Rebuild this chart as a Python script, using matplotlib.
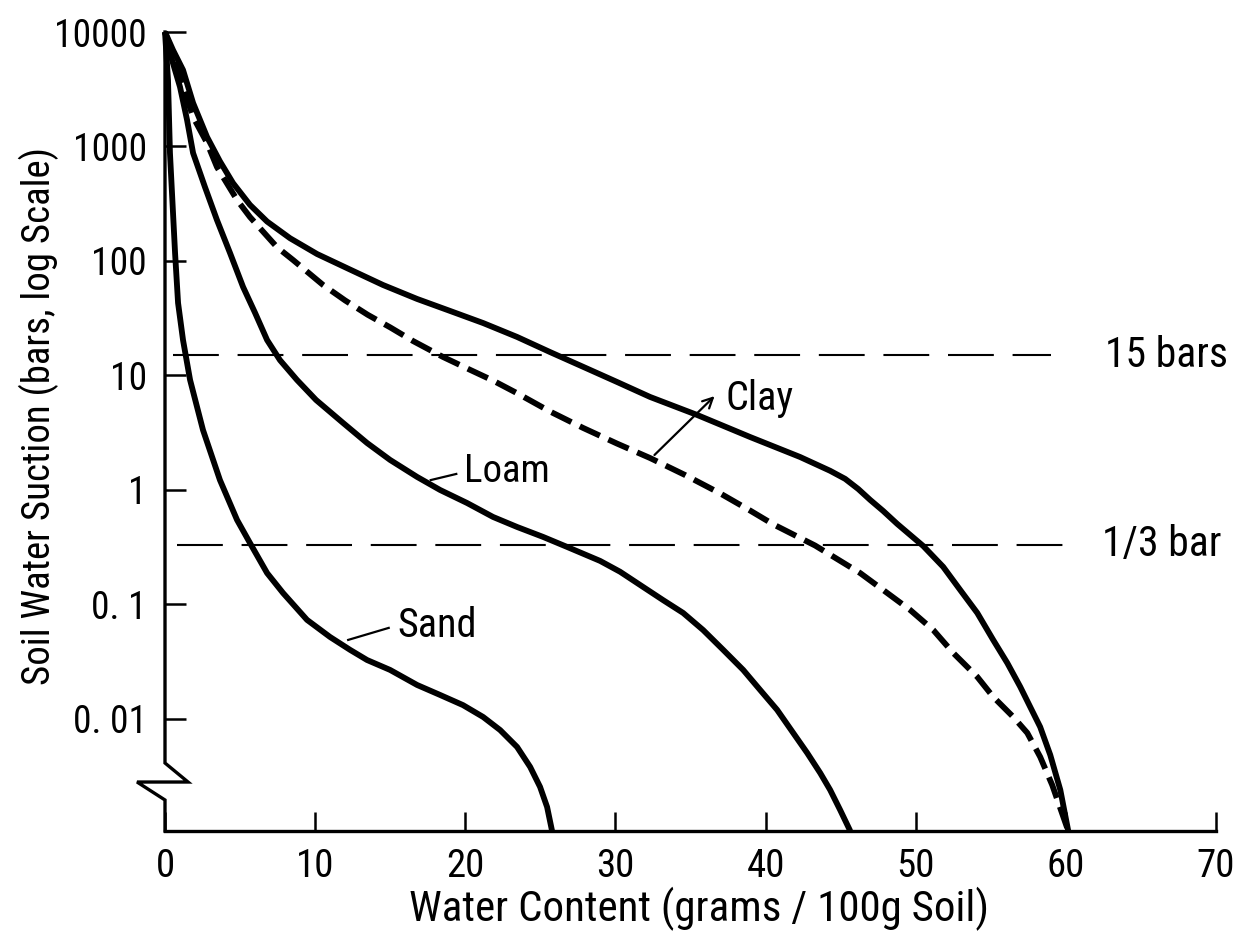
import matplotlib
matplotlib.use("Agg")
import matplotlib.pyplot as plt
from matplotlib import font_manager as fm
from matplotlib.ticker import FixedLocator, FixedFormatter, NullLocator

# ---- data -------------------------------------------------------------
# water content (g / 100 g soil) and soil water suction (bars)
sand_w = [0, 0.20, 0.33, 0.67, 0.87, 1.20, 1.67, 2.53, 3.66, 4.80, 5.66, 6.80,
          7.86, 9.46, 10.99, 12.33, 13.46, 14.99, 16.79, 18.32, 19.85, 21.19,
          22.32, 23.45, 24.32, 24.98, 25.45, 25.78]
sand_s = [10000, 3811, 877, 117.5, 43, 20.4, 9.14, 3.34, 1.22, 0.547, 0.344,
          0.188, 0.126, 0.0733, 0.052, 0.0401, 0.0327, 0.0268, 0.0198, 0.0162,
          0.0132, 0.0104, 0.0080, 0.00569, 0.00381, 0.00255, 0.0017, 0.00105]

loam_w = [0, 0.47, 1.0, 1.47, 1.87, 2.66, 3.46, 4.33, 5.20, 6.00, 6.80, 7.66,
          8.79, 10.06, 11.86, 13.46, 14.99, 16.79, 18.32, 20.12, 21.85, 23.45,
          25.18, 26.78, 28.98, 30.31, 31.85, 33.18, 34.51, 35.84, 37.18, 38.51,
          39.64, 40.77, 41.84, 42.77, 43.64, 44.30, 44.97, 45.64]
loam_s = [10000, 5690, 3311, 1702, 877, 443, 228, 117.5, 59.3, 35.2, 20.4,
          13.6, 9.14, 6.11, 3.85, 2.57, 1.83, 1.30, 1.0, 0.769, 0.581, 0.475,
          0.389, 0.318, 0.240, 0.193, 0.142, 0.109, 0.0843, 0.0598, 0.0401,
          0.0268, 0.0179, 0.0120, 0.00755, 0.00505, 0.00337, 0.0024, 0.0016,
          0.00105]

clay_w = [0, 0.53, 1.20, 1.87, 2.80, 3.66, 4.53, 5.66, 6.80, 8.33, 10.13,
          12.33, 14.52, 16.79, 18.99, 21.19, 23.45, 25.65, 27.85, 30.11, 32.31,
          35.44, 38.97, 42.30, 44.30, 45.30, 46.17, 46.97, 47.83, 48.77, 49.63,
          50.50, 51.83, 52.96, 54.10, 55.16, 56.10, 56.96, 57.63, 58.29, 58.96,
          59.63, 60.16]
clay_s = [10000, 6966, 4656, 2399, 1211, 741, 479, 309, 221, 158, 115, 84.1,
          61.7, 46.6, 36.6, 28.7, 21.7, 16.0, 11.9, 8.77, 6.49, 4.52, 2.90,
          1.94, 1.47, 1.25, 1.02, 0.818, 0.656, 0.505, 0.405, 0.324, 0.213,
          0.134, 0.0843, 0.049, 0.0308, 0.0191, 0.0127, 0.00851, 0.00485,
          0.0024, 0.00105]

clay2_w = [0, 0.67, 1.20, 1.87, 2.80, 3.46, 4.80, 5.66, 7.46, 8.53, 10.53,
           12.00, 13.50, 15.00, 16.52, 18.52, 20.32, 21.85, 23.45, 25.65, 27.85,
           30.11, 32.31, 34.64, 36.98, 38.97, 40.51, 43.30, 46.30, 48.10, 49.63,
           51.17, 52.50, 54.10, 55.16, 56.50, 57.43, 58.29, 59.09, 60.16]
clay2_s = [10000, 5690, 3311, 1811, 1074, 662, 341, 242, 132, 102, 61.7, 45.2,
           33.9, 26.3, 20.0, 14.5, 11.2, 9.02, 7.00, 4.84, 3.48, 2.54, 1.90,
           1.35, 0.933, 0.661, 0.501, 0.327, 0.188, 0.126, 0.0895, 0.0598,
           0.0377, 0.0233, 0.0156, 0.0104, 0.00755, 0.00466, 0.00265, 0.00105]

wilting_point = 15.0        # bars
field_capacity = 1.0 / 3.0  # bars

x_ticks = [0, 10, 20, 30, 40, 50, 60, 70]
x_tick_labels = ["0", "10", "20", "30", "40", "50", "60", "70"]
y_ticks = [0.01, 0.1, 1, 10, 100, 1000, 10000]
y_tick_labels = ["0. 01", "0. 1", "1", "10", "100", "1000", "10000"]

# ---- fonts: prefer a narrow sans ------------------------------------------
names = {f.name for f in fm.fontManager.ttflist}
chosen = None
for cand in ["Liberation Sans Narrow", "Roboto Condensed", "Open Sans Condensed",
             "Noto Sans Condensed", "DejaVu Sans Condensed"]:
    if cand in names:
        chosen = cand
        break
if chosen:
    plt.rcParams["font.family"] = [chosen, "DejaVu Sans"]
else:
    plt.rcParams["font.family"] = ["DejaVu Sans"]
    plt.rcParams["font.stretch"] = "condensed"

# ---- figure -----------------------------------------------------------
fig = plt.figure(figsize=(12.33, 9.35), dpi=100)
ax = fig.add_axes([165 / 1233, 1 - 831 / 935, 1051 / 1233, 799 / 935])

ax.set_yscale("log")
ax.set_xlim(0, 70)
ax.set_ylim(0.00105, 10000)

curve_kw = dict(color="black", lw=4.2, clip_on=False,
                solid_joinstyle="round", solid_capstyle="butt")
ax.plot(sand_w, sand_s, **curve_kw)
ax.plot(loam_w, loam_s, **curve_kw)
ax.plot(clay_w, clay_s, **curve_kw)
ax.plot(clay2_w, clay2_s, color="black", lw=4.2, clip_on=False,
        linestyle=(0, (3.8, 1.6)), dash_capstyle="butt", dash_joinstyle="round")

# reference suction levels
ref_kw = dict(color="black", lw=1.5, linestyle=(0, (22, 9)))
ax.plot([0.5, 59.0], [wilting_point, wilting_point], **ref_kw)
ax.plot([0.8, 60.7], [field_capacity, field_capacity], **ref_kw)
ax.text(62.6, wilting_point, "15 bars", fontsize=30, va="center", ha="left",
        clip_on=False)
ax.text(62.4, field_capacity, "1/3 bar", fontsize=30, va="center", ha="left",
        clip_on=False)

# curve labels with leaders
ax.text(15.5, 0.066, "Sand", fontsize=29, va="center", ha="left")
ax.plot([12.2, 14.9], [0.049, 0.0624], color="black", lw=1.6)
ax.text(19.9, 1.44, "Loam", fontsize=28, va="center", ha="left")
ax.plot([17.7, 19.4], [1.22, 1.38], color="black", lw=1.6)
ax.text(37.3, 6.35, "Clay", fontsize=29, va="center", ha="left")
ax.annotate("", xy=(36.6, 6.6), xytext=(32.6, 2.02),
            arrowprops=dict(arrowstyle="->", color="black", lw=1.6,
                            shrinkA=0, shrinkB=0, mutation_scale=18))

# axes styling
for side in ("top", "right", "left"):
    ax.spines[side].set_visible(False)
ax.spines["bottom"].set_linewidth(2.4)

# left axis line with a break below the lowest labelled decade
ax.plot([0, 0, 0.0219, -0.0266, 0, 0], [1, 0.0851, 0.0613, 0.0613, 0.0388, 0],
        transform=ax.transAxes, color="black", lw=2.4, clip_on=False,
        solid_joinstyle="miter")

ax.xaxis.set_major_locator(FixedLocator(x_ticks))
ax.xaxis.set_major_formatter(FixedFormatter(x_tick_labels))
ax.yaxis.set_major_locator(FixedLocator(y_ticks))
ax.yaxis.set_major_formatter(FixedFormatter(y_tick_labels))
ax.yaxis.set_minor_locator(NullLocator())
ax.xaxis.set_minor_locator(NullLocator())

ax.tick_params(axis="x", direction="in", length=14, width=1.8, pad=12,
               labelsize=28)
ax.tick_params(axis="y", direction="in", length=15, width=1.8, pad=13,
               labelsize=27)

ax.set_xlabel("Water Content (grams / 100g Soil)", fontsize=31)
ax.xaxis.set_label_coords(0.508, -0.07)
ax.set_ylabel("Soil Water Suction (bars, log Scale)", fontsize=28)
ax.yaxis.set_label_coords(-0.101, 0.52)

fig.savefig("out.png", dpi=100, facecolor="white")
